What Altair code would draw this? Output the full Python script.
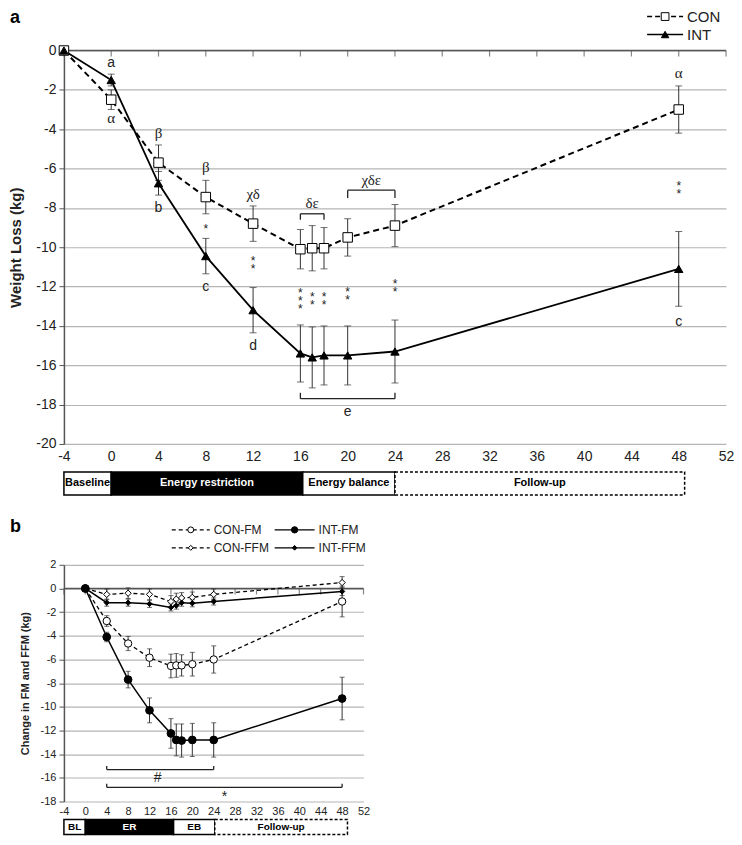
import altair as alt
import pandas as pd

SANS = "Liberation Sans"
SERIF = "Liberation Serif"
GRID = "#b5b5b5"
AXC = "#555555"

# ---------------- Panel a: weight loss ----------------
weeks_a = [-4, 0, 4, 8, 12, 16, 17, 18, 20, 24, 48]
con_a = [0, -2.5, -5.7, -7.45, -8.8, -10.1, -10.05, -10.05, -9.5, -8.9, -3.0]
con_a_sem = [0, 0.5, 0.9, 0.85, 0.9, 1.0, 1.15, 1.05, 0.95, 1.07, 1.2]
int_a = [0, -1.5, -6.75, -10.45, -13.2, -15.4, -15.6, -15.5, -15.5, -15.3, -11.1]
int_a_sem = [0, 0.3, 0.6, 0.9, 1.15, 1.45, 1.55, 1.5, 1.5, 1.6, 1.9]

xticks = list(range(-4, 53, 4))
yticks_a = list(range(-20, 1, 2))

ann_a_sans_week = [0, 4, 8, 12, 48, 20]
ann_a_sans_y = [-0.65, -8.0, -12.0, -15.0, -13.8, -18.4]
ann_a_sans_text = ["a", "b", "c", "d", "c", "e"]

ann_a_greek_week = [0, 4, 8, 12, 17, 22, 48]
ann_a_greek_y = [-3.45, -4.2, -5.9, -7.3, -7.75, -6.6, -1.15]
ann_a_greek_text = ["α", "β", "β", "χδ", "δε", "χδε", "α"]

# y of the top asterisk of each stack
ann_a_star_week = [8, 12, 16, 17, 18, 20, 24, 48]
ann_a_star_y = [-9.0, -10.66, -12.3, -12.5, -12.5, -12.25, -11.8, -6.85]
ann_a_star_n = [1, 2, 3, 2, 2, 2, 2, 2]

bracket_a_start = [16, 20, 16]
bracket_a_end = [18, 24, 24]
bracket_a_y = [-8.3, -7.1, -17.7]
bracket_a_leg = [-0.3, -0.4, 0.3]

phase_a_names = ["Baseline", "Energy restriction", "Energy balance", "Follow-up"]
phase_a_start = [-4, 0, 16.2, 24]
phase_a_end = [0, 16.2, 24, 48.5]
phase_fill = ["white", "black", "white", "white"]
phase_text_col = ["black", "white", "black", "black"]
phase_dashed = [False, False, False, True]

# ---------------- Panel b: FM / FFM ----------------
weeks_b = [0, 4, 8, 12, 16, 17, 18, 20, 24, 48]
con_fm = [0, -2.75, -4.65, -5.85, -6.55, -6.5, -6.5, -6.4, -6.0, -1.1]
con_fm_sem = [0, 0.45, 0.6, 0.75, 1.0, 1.0, 0.9, 1.0, 1.15, 1.3]
int_fm = [0, -4.1, -7.7, -10.3, -12.25, -12.8, -12.85, -12.8, -12.8, -9.3]
int_fm_sem = [0, 0.4, 0.7, 1.05, 1.25, 1.35, 1.4, 1.4, 1.45, 1.8]
con_ffm = [0, -0.5, -0.4, -0.5, -1.1, -0.9, -0.8, -0.75, -0.5, 0.5]
con_ffm_sem = [0, 0.45, 0.45, 0.45, 0.5, 0.5, 0.45, 0.45, 0.45, 0.5]
int_ffm = [0, -1.2, -1.2, -1.3, -1.6, -1.45, -1.2, -1.25, -1.1, -0.25]
int_ffm_sem = [0, 0.3, 0.3, 0.3, 0.3, 0.3, 0.3, 0.3, 0.3, 0.35]

yticks_b = list(range(-18, 3, 2))

bracket_b_start = [4, 4]
bracket_b_end = [24, 48]
bracket_b_y = [-15.3, -16.8]
bracket_b_leg = [0.3, 0.3]
bracket_b_text = ["#", "*"]
bracket_b_text_week = [13.5, 26]
bracket_b_text_y = [-16.0, -17.6]

phase_b_names = ["BL", "ER", "EB", "Follow-up"]
phase_b_start = [-4, 0, 16.5, 24.2]
phase_b_end = [0, 16.5, 24.2, 49]

# ---------------- sizes ----------------
WA, HA = 663, 394
WB, HB = 300, 237

HYPHEN = "'' + datum.value"


def make_panel(ydom, yticks, ytitle, fs, tfs, lpad, tpad):
    xs = alt.Scale(domain=[-4, 52], nice=False, zero=False)
    ys = alt.Scale(domain=ydom, nice=False, zero=False)
    xax = alt.Axis(values=xticks, title=None, grid=False, domain=False, ticks=False,
                   labelFontSize=fs, labelFont=SANS, labelColor="#222", labelPadding=lpad,
                   labelFlush=False, labelExpr=HYPHEN)
    yax = alt.Axis(values=yticks, title=ytitle, grid=True, gridColor=GRID, gridWidth=1.2,
                   domainColor=AXC, domainWidth=1.5, tickColor=AXC, tickSize=5,
                   labelFontSize=fs, labelFont=SANS, labelColor="#222", labelPadding=3,
                   labelFlush=False, labelExpr=HYPHEN,
                   titleFontSize=tfs, titleFont=SANS, titleFontWeight="bold",
                   titleColor="#222", titlePadding=tpad)

    def X(f):
        return alt.X(f"{f}:Q", scale=xs, axis=xax)

    def X2(f):
        return alt.X2(f"{f}")

    def Y(f):
        return alt.Y(f"{f}:Q", scale=ys, axis=yax)

    def Y2(f):
        return alt.Y2(f"{f}")

    return X, X2, Y, Y2


def series(weeks, vals, sems, X, Y, Y2, dash, lw, shape, fill, size, cap):
    df = pd.DataFrame({"week": weeks, "val": vals, "sem": sems})
    df["lo"] = df["val"] - df["sem"]
    df["hi"] = df["val"] + df["sem"]
    eb = df[df["sem"] > 0]
    kw = {"strokeDash": dash} if dash else {}
    line = alt.Chart(df).mark_line(color="black", strokeWidth=lw, **kw).encode(x=X("week"), y=Y("val"))
    rule = alt.Chart(eb).mark_rule(color="#333", strokeWidth=1).encode(x=X("week"), y=Y("lo"), y2=Y2("hi"))
    cap_lo = alt.Chart(eb).mark_tick(orient="horizontal", color="#333", size=cap, thickness=1).encode(x=X("week"), y=Y("lo"))
    cap_hi = alt.Chart(eb).mark_tick(orient="horizontal", color="#333", size=cap, thickness=1).encode(x=X("week"), y=Y("hi"))
    pts = alt.Chart(df).mark_point(shape=shape, filled=True, fill=fill, stroke="black",
                                   strokeWidth=1, size=size, opacity=1).encode(x=X("week"), y=Y("val"))
    return [line, rule, cap_lo, cap_hi], [pts]


def brackets(starts, ends, ys, legs, X, X2, Y, Y2):
    rows = []
    for s, e, y, l in zip(starts, ends, ys, legs):
        rows.append({"x": s, "x2": e, "y": y, "y2": y})
        rows.append({"x": s, "x2": s, "y": y, "y2": y + l})
        rows.append({"x": e, "x2": e, "y": y, "y2": y + l})
    df = pd.DataFrame(rows)
    return alt.Chart(df).mark_rule(color="#222", strokeWidth=1.3).encode(
        x=X("x"), x2=X2("x2"), y=Y("y"), y2=Y2("y2"))


def zero_axis(X, X2, Y):
    axis_df = pd.DataFrame({"x": [-4], "x2": [52], "y": [0]})
    line = alt.Chart(axis_df).mark_rule(color=AXC, strokeWidth=1.5).encode(x=X("x"), x2=X2("x2"), y=Y("y"))
    tdf = pd.DataFrame({"week": xticks, "y": [0] * len(xticks)})
    ticks = alt.Chart(tdf).mark_tick(orient="vertical", color=AXC, size=6, thickness=1.2, yOffset=3).encode(
        x=X("week"), y=Y("y"))
    return [line, ticks]


def phases(names, starts, ends, X, X2, ytop, ybot, fs):
    df = pd.DataFrame({"name": names, "s": starts, "e": ends, "fill": phase_fill,
                       "tcol": phase_text_col, "dashed": phase_dashed})
    df["mid"] = (df["s"] + df["e"]) / 2
    solid = alt.Chart(df[~df["dashed"]]).mark_rect(stroke="black", strokeWidth=1.5).encode(
        x=X("s"), x2=X2("e"), y=alt.value(ytop), y2=alt.value(ybot),
        fill=alt.Fill("fill:N", scale=None))
    dashed = alt.Chart(df[df["dashed"]]).mark_rect(stroke="black", strokeWidth=1.5, strokeDash=[3, 2]).encode(
        x=X("s"), x2=X2("e"), y=alt.value(ytop), y2=alt.value(ybot),
        fill=alt.Fill("fill:N", scale=None))
    txt = alt.Chart(df).mark_text(font=SANS, fontWeight="bold", fontSize=fs, baseline="middle").encode(
        x=X("mid"), y=alt.value((ytop + ybot) / 2), text="name:N",
        color=alt.Color("tcol:N", scale=None))
    return [solid, dashed, txt]


one = pd.DataFrame({"k": [0]})


def legend_entry(x0, x1, y, label, dash, lw, shape, fill, size, tx, fs):
    kw = {"strokeDash": dash} if dash else {}
    ln = alt.Chart(one).mark_rule(color="black", strokeWidth=lw, **kw).encode(
        x=alt.value(x0), x2=alt.value(x1), y=alt.value(y))
    pt = alt.Chart(one).mark_point(shape=shape, filled=True, fill=fill, stroke="black", strokeWidth=1,
                                   size=size, opacity=1).encode(x=alt.value((x0 + x1) / 2), y=alt.value(y))
    tx_ = alt.Chart(one).mark_text(font=SANS, fontSize=fs, align="left", baseline="middle", color="#222").encode(
        x=alt.value(tx), y=alt.value(y), text=alt.value(label))
    return [ln, pt, tx_]


# ================= Panel a =================
X, X2, Y, Y2 = make_panel([-20, 0], yticks_a, "Weight Loss (kg)", 14, 15, 6, 12)
con_back, con_pts = series(weeks_a, con_a, con_a_sem, X, Y, Y2, [6, 4], 2, "square", "white", 90, 7)
int_back, int_pts = series(weeks_a, int_a, int_a_sem, X, Y, Y2, None, 1.8, "triangle-up", "black", 70, 7)

sans_df = pd.DataFrame({"week": ann_a_sans_week, "y": ann_a_sans_y, "t": ann_a_sans_text})
greek_df = pd.DataFrame({"week": ann_a_greek_week, "y": ann_a_greek_y, "t": ann_a_greek_text})
star_df = pd.DataFrame({"week": ann_a_star_week, "y": ann_a_star_y,
                        "t": ["\n".join(["*"] * n) for n in ann_a_star_n]})
ann_sans = alt.Chart(sans_df).mark_text(font=SANS, fontSize=14, color="#222", baseline="middle").encode(
    x=X("week"), y=Y("y"), text="t:N")
ann_greek = alt.Chart(greek_df).mark_text(font=SERIF, fontSize=15, color="#222", baseline="middle").encode(
    x=X("week"), y=Y("y"), text="t:N")
ann_star = alt.Chart(star_df).mark_text(font=SANS, fontSize=12, color="#222", baseline="middle",
                                        lineBreak="\n", lineHeight=8, dy=1).encode(
    x=X("week"), y=Y("y"), text="t:N")

br_a = brackets(bracket_a_start, bracket_a_end, bracket_a_y, bracket_a_leg, X, X2, Y, Y2)
ph_a = phases(phase_a_names, phase_a_start, phase_a_end, X, X2, HA + 28, HA + 51, 11)

label_a = alt.Chart(one).mark_text(font=SANS, fontSize=18, fontWeight="bold", align="left",
                                   baseline="top", color="black").encode(
    x=alt.value(-54), y=alt.value(-42), text=alt.value("a"))
leg_a = (legend_entry(584, 620, -34, "CON", [5, 3], 1.5, "square", "white", 60, 624, 15)
         + legend_entry(584, 620, -16, "INT", None, 1.5, "triangle-up", "black", 55, 624, 15))

panel_a = alt.layer(
    *zero_axis(X, X2, Y), *con_back, *int_back, *con_pts, *int_pts,
    ann_sans, ann_greek, ann_star, br_a, *ph_a, label_a, *leg_a
).properties(width=WA, height=HA)

# ================= Panel b =================
Xb, X2b, Yb, Y2b = make_panel([-18, 2], yticks_b, "Change in FM and FFM (kg)", 11, 11, 4, 10)
cfm_back, cfm_pts = series(weeks_b, con_fm, con_fm_sem, Xb, Yb, Y2b, [4, 3], 1.3, "circle", "white", 55, 5)
ifm_back, ifm_pts = series(weeks_b, int_fm, int_fm_sem, Xb, Yb, Y2b, None, 1.5, "circle", "black", 60, 5)
cffm_back, cffm_pts = series(weeks_b, con_ffm, con_ffm_sem, Xb, Yb, Y2b, [4, 3], 1.3, "diamond", "white", 40, 5)
iffm_back, iffm_pts = series(weeks_b, int_ffm, int_ffm_sem, Xb, Yb, Y2b, None, 1.5, "diamond", "black", 28, 5)

br_b = brackets(bracket_b_start, bracket_b_end, bracket_b_y, bracket_b_leg, Xb, X2b, Yb, Y2b)
brt_df = pd.DataFrame({"week": bracket_b_text_week, "y": bracket_b_text_y, "t": bracket_b_text})
br_b_txt = alt.Chart(brt_df).mark_text(font=SANS, fontSize=14, color="#222", baseline="middle").encode(
    x=Xb("week"), y=Yb("y"), text="t:N")
ph_b = phases(phase_b_names, phase_b_start, phase_b_end, Xb, X2b, HB + 18, HB + 33, 10)

label_b = alt.Chart(one).mark_text(font=SANS, fontSize=18, fontWeight="bold", align="left",
                                   baseline="top", color="black").encode(
    x=alt.value(-54), y=alt.value(-47), text=alt.value("b"))
leg_b = (legend_entry(108, 146, -35, "CON-FM", [4, 3], 1.2, "circle", "white", 35, 150, 12)
         + legend_entry(108, 146, -17, "CON-FFM", [4, 3], 1.2, "diamond", "white", 25, 150, 12)
         + legend_entry(211, 251, -35, "INT-FM", None, 1.4, "circle", "black", 40, 255, 12)
         + legend_entry(211, 251, -17, "INT-FFM", None, 1.4, "diamond", "black", 22, 255, 12))

panel_b = alt.layer(
    *zero_axis(Xb, X2b, Yb), *cffm_back, *iffm_back, *cfm_back, *ifm_back,
    *cffm_pts, *iffm_pts, *cfm_pts, *ifm_pts,
    br_b, br_b_txt, *ph_b, label_b, *leg_b
).properties(width=WB, height=HB)

chart = alt.vconcat(panel_a, panel_b, spacing=22).properties(padding=0).configure_view(stroke=None)

chart.save("out.html", embed_options={"renderer": "svg", "actions": False})
